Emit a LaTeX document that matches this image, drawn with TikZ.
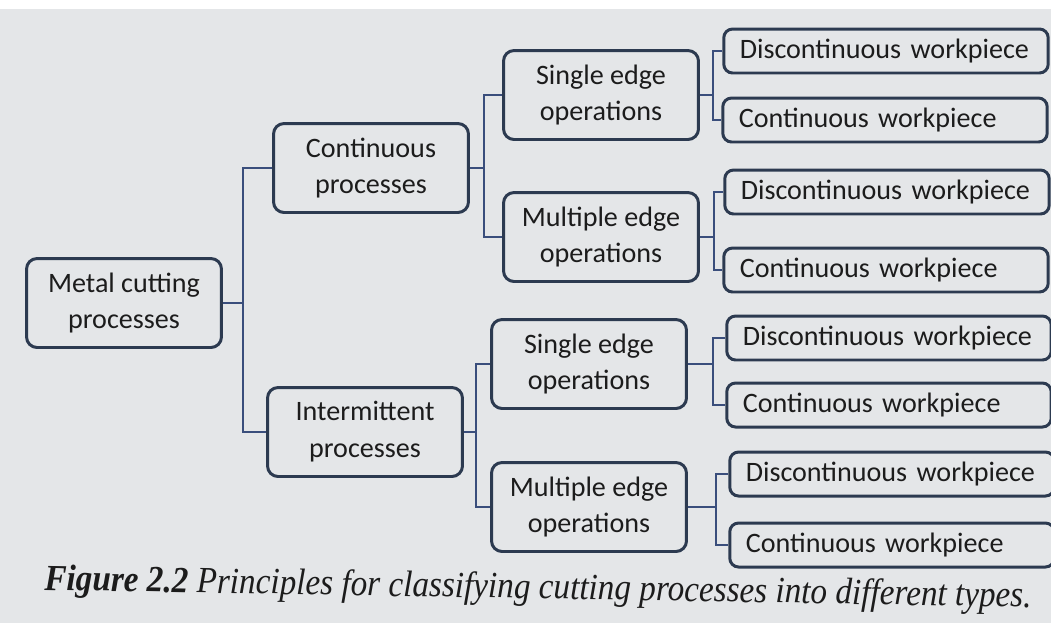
\documentclass[tikz,border=0pt]{standalone}
\usepackage{fontspec}
\setmainfont{Carlito}
\newfontfamily\captionserif{Liberation Serif}
\usetikzlibrary{positioning, calc}
\definecolor{paper}{HTML}{E4E6E8}
\definecolor{rand}{HTML}{2C3A50}
\definecolor{linie}{HTML}{3A4E7C}
\definecolor{schrift}{HTML}{1C1C1C}

\begin{document}
\begin{tikzpicture}[x=0.02cm, y=-0.02cm,
    box/.style={draw=rand, line width=1.7pt, rounded corners=6pt, fill=paper,
      text=schrift, align=center, minimum width=3.9cm, minimum height=1.78cm,
      font=\fontsize{16}{21}\selectfont},
    leaf/.style={draw=rand, line width=1.7pt, rounded corners=5pt, fill=paper,
      text=schrift, align=left, text width=5.85cm, inner xsep=0.32cm,
      minimum height=0.88cm, font=\fontsize{16}{18}\selectfont},
    link/.style={draw=linie, line width=1.5pt}]
    \useasboundingbox (0,0) rectangle (1051,623);
    % Papier
    \fill[paper] (0,0) rectangle (1051,623);
    \fill[white] (0,0) rectangle (1051,9);
    % Ebene 1 und 2
    \node[box] (metal) at (124,303) {Metal cutting\\processes};
    \node[box] (cont)  at (371,168) {Continuous\\processes};
    \node[box] (inter) at (365,432) {Intermittent\\processes};
    % Ebene 3
    \node[box] (single1) at (601,95)  {Single edge\\operations};
    \node[box] (multi1)  at (601,237) {Multiple edge\\operations};
    \node[box] (single2) at (589,364) {Single edge\\operations};
    \node[box] (multi2)  at (589,507) {Multiple edge\\operations};
    % Werkstuecke
    \node[leaf] (dis1) at (886,51)  {Discontinuous workpiece};
    \node[leaf] (con1) at (885,120) {Continuous workpiece};
    \node[leaf] (dis2) at (887,192) {Discontinuous workpiece};
    \node[leaf] (con2) at (886,270) {Continuous workpiece};
    \node[leaf] (dis3) at (889,338) {Discontinuous workpiece};
    \node[leaf] (con3) at (889,405) {Continuous workpiece};
    \node[leaf] (dis4) at (892,474) {Discontinuous workpiece};
    \node[leaf] (con4) at (892,545) {Continuous workpiece};
    % Verbindungen: Stamm je Verzweigung
    \coordinate (s0) at (243,0);
    \coordinate (s1) at (484,0);
    \coordinate (s2) at (476,0);
    \coordinate (s3) at (713,0);
    \coordinate (s4) at (714,0);
    \coordinate (s5) at (713,0);
    \coordinate (s6) at (716,0);
    \draw[link] (metal.east) -- (metal.east -| s0);
    \draw[link] (cont.west) -- (cont.west -| s0) |- (inter.west);
    \draw[link] (cont.east) -- (cont.east -| s1);
    \draw[link] (single1.west) -- (single1.west -| s1) |- (multi1.west);
    \draw[link] (inter.east) -- (inter.east -| s2);
    \draw[link] (single2.west) -- (single2.west -| s2) |- (multi2.west);
    \draw[link] (single1.east) -- (single1.east -| s3);
    \draw[link] (dis1.west) -- (dis1.west -| s3) |- (con1.west);
    \draw[link] (multi1.east) -- (multi1.east -| s4);
    \draw[link] (dis2.west) -- (dis2.west -| s4) |- (con2.west);
    \draw[link] (single2.east) -- (single2.east -| s5);
    \draw[link] (dis3.west) -- (dis3.west -| s5) |- (con3.west);
    \draw[link] (multi2.east) -- (multi2.east -| s6);
    \draw[link] (dis4.west) -- (dis4.west -| s6) |- (con4.west);
    % Bildunterschrift
    \node[anchor=base west, rotate=-1.0, xscale=0.9, text=schrift, inner sep=0pt,
      font=\captionserif\fontsize{21}{24}\selectfont\itshape] (caption) at (44,590)
      {\textbf{Figure 2.2} Principles for classifying cutting processes into different types.};
\end{tikzpicture}
\end{document}
